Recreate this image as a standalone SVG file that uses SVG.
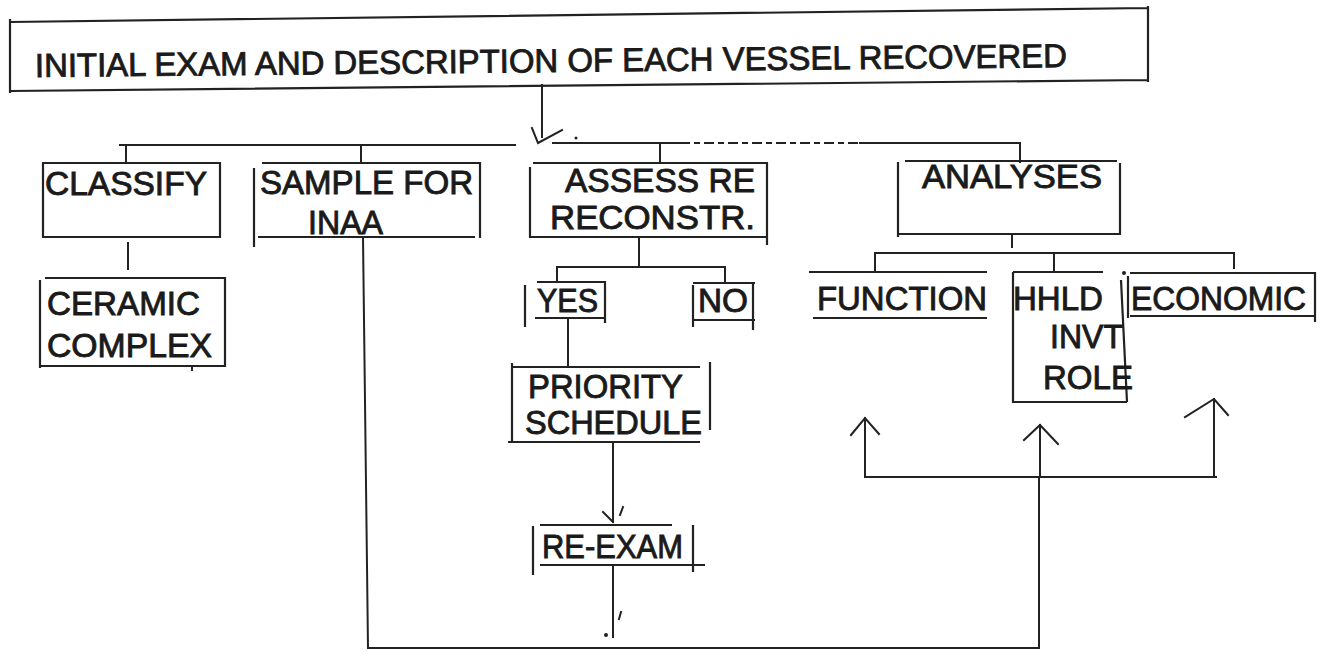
<svg xmlns="http://www.w3.org/2000/svg" width="1327" height="652" viewBox="0 0 1327 652">
<style>
.ln{fill:none;stroke:#222;stroke-width:2;stroke-linecap:square}
.bx{fill:none;stroke:#222;stroke-width:2.2}
.tx{font-family:"Liberation Sans",Arial,Helvetica,sans-serif;font-size:33px;fill:#1a1a1a;stroke:#1a1a1a;stroke-width:0.9}
.dash{fill:none;stroke:#222;stroke-width:2;stroke-dasharray:10 4 6 4}
</style>
<rect width="1327" height="652" fill="#ffffff"/>
<g id="connectors">
<path class="ln" d="M542,85 V137"/>
<path class="ln" d="M532,128 L538,143 L562,130"/>
<circle cx="576" cy="138" r="1.5" fill="#222"/>
<path class="ln" d="M120,145 H515 M553,143 H680 M860,143 H1020 V162"/>
<path class="dash" d="M680,143 H860"/>
<path class="ln" d="M126,145 V162 M361,145 V163 M660,143 V162"/>
<path class="ln" d="M128,243 V269"/>
<path class="ln" d="M192,366 V370"/>
<path class="ln" d="M639,237 V265 M557,267 H725 M557,267 V282 M725,267 V282"/>
<path class="ln" d="M568,318 V367"/>
<path class="ln" d="M613,442 V522"/>
<path class="ln" d="M603,512 L613,522 M623,507 L620,515"/>
<path class="ln" d="M613,565 V637"/>
<circle cx="606" cy="635" r="2" fill="#222"/>
<path class="ln" d="M621,612 L619,619"/>
<path class="ln" d="M1012,234 V247 M875,253 H1234 M875,253 V272 M1054,253 V272 M1234,253 V268"/>
<path class="ln" d="M363,237 L368,648 H1039 V477 M865,477 H1216"/>
<path class="ln" d="M865,477 V418 M851,435 L865,418 L879,434"/>
<path class="ln" d="M1040,477 V425 M1024,440 L1040,425 L1058,444"/>
<path class="ln" d="M1214,477 V399 M1185,417 L1214,399 L1228,415"/>
</g>
<g id="node-initial">
<path class="bx" d="M10,22 L1148,8 M1148,6 V82 M1148,80 L10,91 M10,19 V93"/>
<text class="tx" x="35" y="72" font-size="35" textLength="1032" lengthAdjust="spacingAndGlyphs" transform="rotate(-0.55 551 72)">INITIAL EXAM AND DESCRIPTION OF EACH VESSEL RECOVERED</text>
</g>
<g id="node-classify">
<path class="bx" d="M43,163 H220 V237 H43 Z"/>
<text class="tx" x="45" y="195" textLength="162" lengthAdjust="spacingAndGlyphs">CLASSIFY</text>
</g>
<g id="node-ceramic">
<path class="bx" d="M45,278 H225 V366 H40 M40,280 V368"/>
<text class="tx" x="47" y="315" textLength="153" lengthAdjust="spacingAndGlyphs">CERAMIC</text>
<text class="tx" x="47" y="357" textLength="165" lengthAdjust="spacingAndGlyphs">COMPLEX</text>
</g>
<g id="node-sample">
<path class="bx" d="M262,163 H480 V238 M475,237 H258 M254,168 V247"/>
<text class="tx" x="260" y="194" textLength="213" lengthAdjust="spacingAndGlyphs">SAMPLE FOR</text>
<text class="tx" x="308" y="234" textLength="75" lengthAdjust="spacingAndGlyphs">INAA</text>
</g>
<g id="node-assess">
<path class="bx" d="M533,163 H767 V245 M767,237 H530 M530,167 V238"/>
<text class="tx" x="565" y="192" textLength="190" lengthAdjust="spacingAndGlyphs">ASSESS RE</text>
<text class="tx" x="550" y="229" textLength="205" lengthAdjust="spacingAndGlyphs">RECONSTR.</text>
</g>
<g id="node-yes">
<path class="bx" d="M537,282 H605 V323 M605,318 H535 M525,285 V327"/>
<text class="tx" x="537" y="312" textLength="61" lengthAdjust="spacingAndGlyphs">YES</text>
</g>
<g id="node-no">
<path class="bx" d="M693,283 H755 M753,283 V330 M755,320 H693 M693,285 V327"/>
<text class="tx" x="698" y="312" textLength="50" lengthAdjust="spacingAndGlyphs">NO</text>
</g>
<g id="node-priority">
<path class="bx" d="M513,367 H700 M710,362 V430 M700,442 H508 M512,363 V443"/>
<text class="tx" x="528" y="398" font-size="30" textLength="155" lengthAdjust="spacingAndGlyphs">PRIORITY</text>
<text class="tx" x="525" y="434" font-size="30" textLength="177" lengthAdjust="spacingAndGlyphs">SCHEDULE</text>
</g>
<g id="node-reexam">
<path class="bx" d="M540,525 H672 M693,525 V572 M705,565 H540 M533,526 V575"/>
<text class="tx" x="542" y="558" textLength="141" lengthAdjust="spacingAndGlyphs">RE-EXAM</text>
</g>
<g id="node-analyses">
<path class="bx" d="M905,161 H1117 M1120,163 V234 H898 M898,162 V237"/>
<text class="tx" x="922" y="188" textLength="180" lengthAdjust="spacingAndGlyphs">ANALYSES</text>
</g>
<g id="node-function">
<path class="bx" d="M809,272 H987 M813,318 H987"/>
<text class="tx" x="817" y="310" textLength="170" lengthAdjust="spacingAndGlyphs">FUNCTION</text>
</g>
<g id="node-hhld">
<path class="bx" d="M1013,272 H1103 M1013,272 V402 H1127 M1121,280 L1127,402"/>
<text class="tx" x="1013" y="310" textLength="90" lengthAdjust="spacingAndGlyphs">HHLD</text>
<text class="tx" x="1050" y="348" textLength="73" lengthAdjust="spacingAndGlyphs">INVT</text>
<text class="tx" x="1043" y="389" textLength="90" lengthAdjust="spacingAndGlyphs">ROLE</text>
</g>
<g id="node-economic">
<path class="bx" d="M1130,273 H1315 V322 M1315,316 H1130 M1128,276 V318"/>
<circle cx="1124" cy="273" r="2" fill="#222"/>
<text class="tx" x="1131" y="310" textLength="175" lengthAdjust="spacingAndGlyphs">ECONOMIC</text>
</g>
</svg>
